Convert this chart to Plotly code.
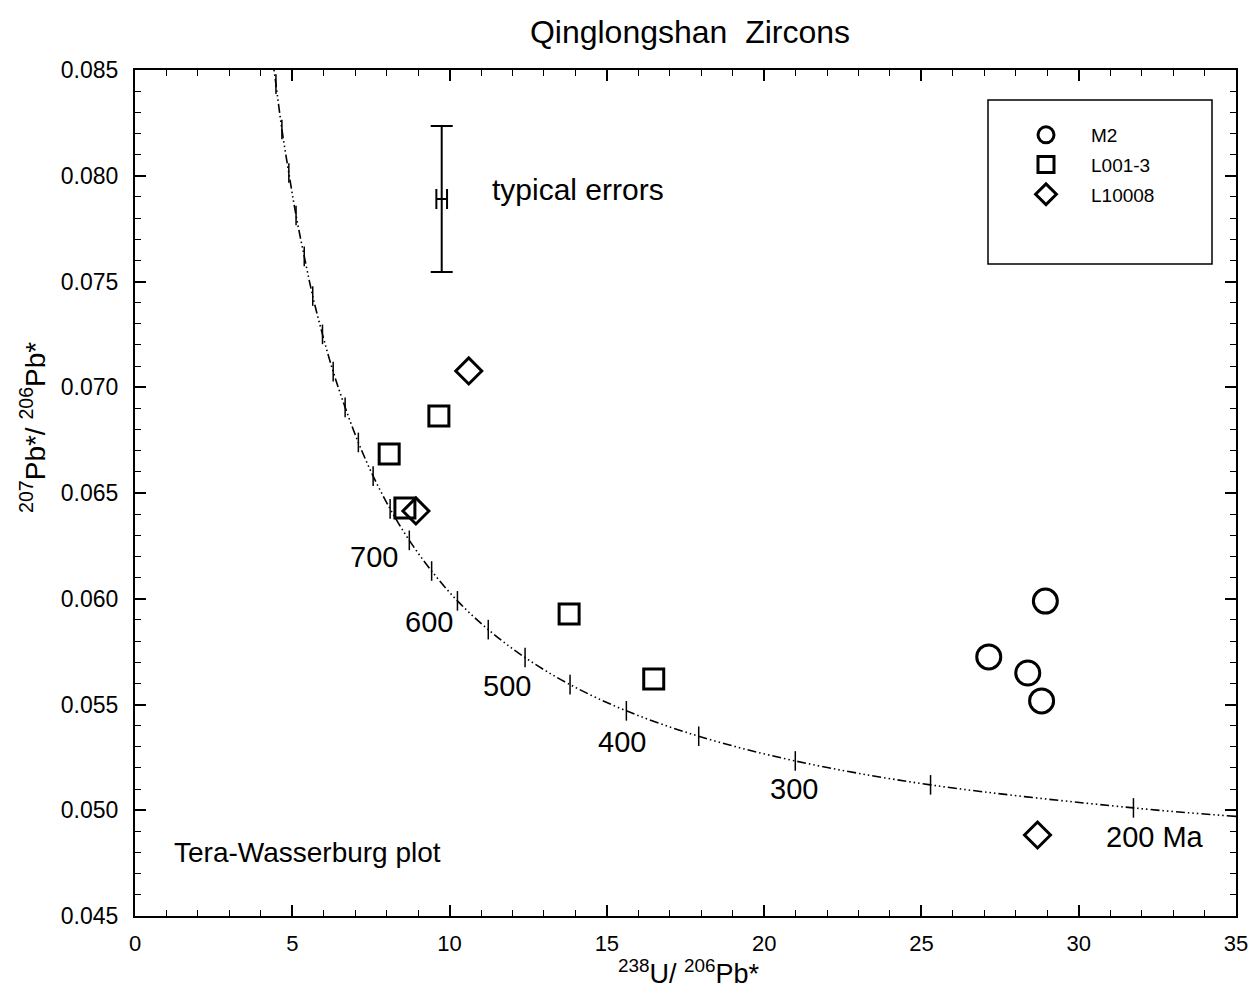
import plotly.graph_objects as go

# ---- data ----
m2_x = [28.94, 27.14, 28.38, 28.82]
m2_y = [0.05989, 0.05725, 0.05649, 0.05517]

l001_x = [8.08, 8.58, 9.66, 13.80, 16.49]
l001_y = [0.06684, 0.06429, 0.06864, 0.05928, 0.05621]

l10008_x = [10.61, 8.93, 28.69]
l10008_y = [0.07077, 0.06415, 0.04883]

# concordia curve points
conc_x = [35.0, 31.74, 25.29, 20.99, 17.92, 15.62, 13.83, 12.40, 11.23, 10.25,
          9.43, 8.72, 8.11, 7.57, 7.10, 6.68, 6.30, 5.96, 5.65, 5.38, 5.12,
          4.89, 4.67, 4.48, 4.42]
conc_y = [0.04971, 0.05011, 0.05120, 0.05233, 0.05350, 0.05470, 0.05594, 0.05722,
          0.05854, 0.05990, 0.06131, 0.06276, 0.06425, 0.06580, 0.06739, 0.06905,
          0.07074, 0.07250, 0.07431, 0.07619, 0.07812, 0.08013, 0.08219, 0.08433,
          0.08500]

# age tick marks on the concordia (200 ... 1300 Ma)
tick_x = conc_x[1:-1]
tick_y = conc_y[1:-1]

age_labels = ["700", "600", "500", "400", "300", "200 Ma"]
age_lab_x = [7.60, 9.34, 11.81, 15.48, 20.94, 32.42]
age_lab_y = [0.06197, 0.05890, 0.05588, 0.05323, 0.05101, 0.04874]

err_x, err_y = [9.75], [0.0789]
err_dx, err_dy = [0.17], [0.00345]

FONT = "Liberation Sans, Arial, Helvetica, sans-serif"

# page body has an 8px margin: figure is sized so the plot lands where the reference has it
W, H = 1242, 981
ML, MR, MT, MB = 127, 14, 62, 73
PW, PH = W - ML - MR, H - MT - MB
X0, Y0 = 8 + ML, 8 + MT   # screen position of plot's top-left


def px(sx):
    return (sx - X0) / PW


def py(sy):
    return 1 - (sy - Y0) / PH


fig = go.Figure()

fig.add_trace(go.Scatter(
    x=conc_x, y=conc_y, mode="lines", line_shape="spline",
    line=dict(color="black", width=1.6, dash="9px,3px,1.5px,3px,1.5px,3px,1.5px,3px"),
    showlegend=False, hoverinfo="skip"))
fig.add_trace(go.Scatter(
    x=tick_x, y=tick_y, mode="markers",
    marker=dict(symbol="line-ns", size=14, line=dict(color="black", width=1.5)),
    showlegend=False, hoverinfo="skip"))

# typical errors
fig.add_trace(go.Scatter(
    x=err_x, y=err_y, mode="markers", marker=dict(size=1, color="black"),
    error_y=dict(type="data", array=err_dy, color="black", thickness=2, width=11),
    error_x=dict(type="data", array=err_dx, color="black", thickness=2, width=10),
    showlegend=False, hoverinfo="skip"))

mk_line = dict(color="black", width=3)
fig.add_trace(go.Scatter(
    x=m2_x, y=m2_y, mode="markers", name="M2", legendgroup="a",
    marker=dict(symbol="circle-open", size=24, color="black", line=mk_line)))
fig.add_trace(go.Scatter(
    x=l001_x, y=l001_y, mode="markers", name="L001-3", legendgroup="b",
    marker=dict(symbol="square-open", size=20, color="black", line=mk_line)))
fig.add_trace(go.Scatter(
    x=l10008_x, y=l10008_y, mode="markers", name="L10008", legendgroup="c",
    marker=dict(symbol="diamond-open", size=20, color="black", line=mk_line)))

annotations = []
for t, x, y in zip(age_labels, age_lab_x, age_lab_y):
    annotations.append(dict(x=x, y=y, text=t, showarrow=False, xref="x", yref="y",
                            font=dict(size=29, color="black", family=FONT)))
annotations.append(dict(x=11.27, y=0.07933, text="typical errors", showarrow=False,
                        xanchor="left", font=dict(size=30, color="black", family=FONT)))
annotations.append(dict(x=1.19, y=0.04798, text="Tera-Wasserburg plot", showarrow=False,
                        xanchor="left", font=dict(size=28, color="black", family=FONT)))
# axis titles
annotations.append(dict(xref="paper", yref="paper", x=px(689), y=py(972),
                        text="<sup>238</sup>U/ <sup>206</sup>Pb*", showarrow=False,
                        xanchor="center", yanchor="middle",
                        font=dict(size=27, color="black", family=FONT)))
annotations.append(dict(xref="paper", yref="paper", x=px(33), y=py(428),
                        text="<sup>207</sup>Pb*/ <sup>206</sup>Pb*", showarrow=False,
                        textangle=-90, xanchor="center", yanchor="middle",
                        font=dict(size=28, color="black", family=FONT)))

axis_common = dict(
    showgrid=False, zeroline=False, showline=True, linecolor="black", linewidth=2,
    ticks="inside", ticklen=11, tickwidth=1.5, tickcolor="black", mirror="ticks",
    automargin=False, ticklabeloverflow="allow",
)

fig.update_layout(
    width=W, height=H,
    margin=dict(l=ML, r=MR, t=MT, b=MB),
    plot_bgcolor="white", paper_bgcolor="white",
    title=dict(text="Qinglongshan\u00a0 Zircons", x=(690 - 8) / W, xanchor="center",
               y=1 - (32 - 8) / H, yanchor="middle",
               font=dict(size=32, color="black", family=FONT)),
    xaxis=dict(range=[0, 35], dtick=5, tick0=0, ticklabelstandoff=7,
               tickfont=dict(size=22, color="black", family=FONT),
               minor=dict(dtick=1, ticks="inside", ticklen=6, tickcolor="black", tickwidth=1),
               **axis_common),
    yaxis=dict(range=[0.045, 0.085], dtick=0.005, tick0=0.045, tickformat=".3f",
               ticklabelstandoff=10,
               tickfont=dict(size=23, color="black", family=FONT),
               minor=dict(dtick=0.001, ticks="inside", ticklen=6, tickcolor="black", tickwidth=1),
               **axis_common),
    legend=dict(x=px(1001), y=py(116), xanchor="left", yanchor="top",
                bgcolor="rgba(0,0,0,0)", borderwidth=0, itemwidth=80,
                tracegroupgap=2, traceorder="grouped",
                font=dict(size=19, color="black", family=FONT)),
    shapes=[dict(type="rect", xref="paper", yref="paper",
                 x0=px(988), x1=px(1212), y0=py(264), y1=py(100),
                 line=dict(color="black", width=1.5))],
    annotations=annotations,
)

fig.write_html("out.html")
